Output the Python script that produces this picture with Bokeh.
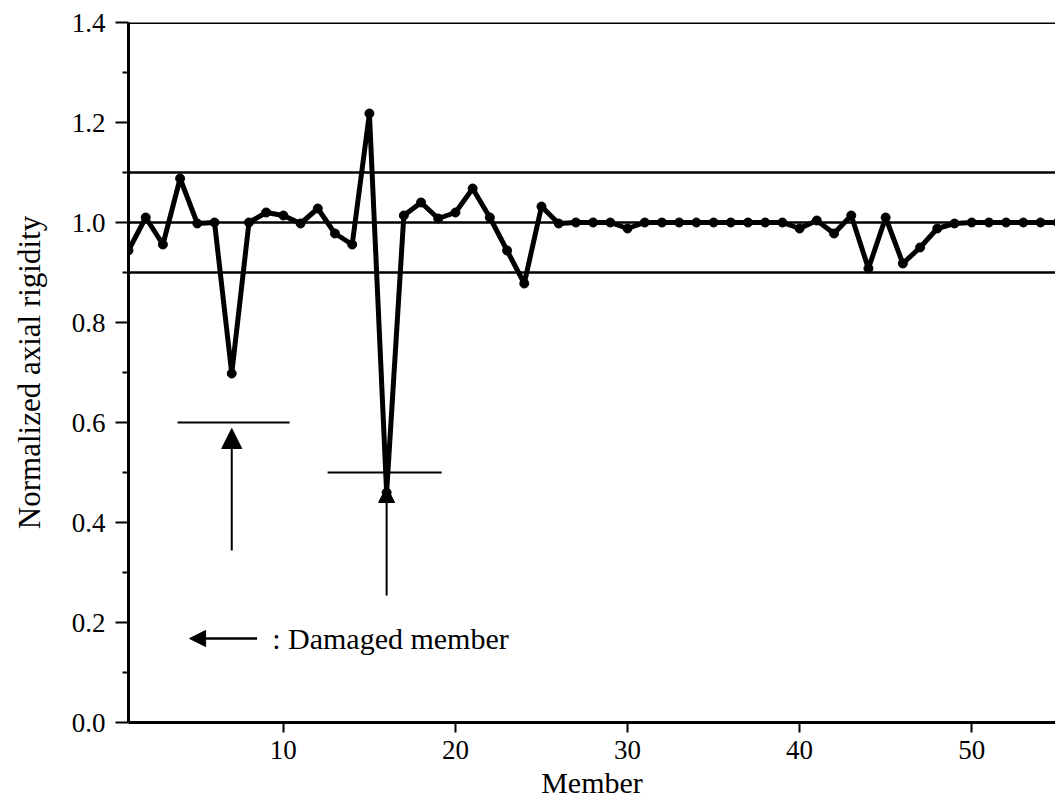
from bokeh.plotting import figure
from bokeh.models import (Span, Arrow, NormalHead, Label, FixedTicker, PrintfTickFormatter)
from bokeh.embed import file_html
from bokeh.resources import INLINE

# ---- data ----
members = list(range(1, 56))
rigidity = [0.944, 1.010, 0.956, 1.088, 0.998, 1.000, 0.698, 1.000, 1.020, 1.014,
            0.998, 1.028, 0.978, 0.956, 1.218, 0.460, 1.014, 1.040, 1.008, 1.020,
            1.068, 1.010, 0.944, 0.878, 1.032, 0.998, 1.000, 1.000, 1.000, 0.988,
            1.000, 1.000, 1.000, 1.000, 1.000, 1.000, 1.000, 1.000, 1.000, 0.988,
            1.004, 0.978, 1.014, 0.908, 1.010, 0.918, 0.950, 0.988, 0.998, 1.000,
            1.000, 1.000, 1.000, 1.000, 1.000]
ref_levels = [1.1, 1.0, 0.9]
x_ticks = [10, 20, 30, 40, 50]
y_ticks = [0.0, 0.2, 0.4, 0.6, 0.8, 1.0, 1.2, 1.4]
y_minor = [0.1, 0.3, 0.5, 0.7, 0.9, 1.1, 1.3]

# damaged members and their true values (short horizontal bars)
damaged = [7, 16]
true_vals = [0.6, 0.5]
bar_x0 = [3.85, 12.57]
bar_x1 = [10.36, 19.2]
arrow_start = [0.344, 0.254]
arrow_end = [0.588, 0.472]

FONT = "Liberation Serif"

p = figure(width=1055, height=807, x_range=(1, 54.87), y_range=(0, 1.4),
           output_backend="svg", toolbar_location=None,
           min_border_left=128, min_border_right=0, min_border_top=22,
           min_border_bottom=85)
p.outline_line_color = None
p.grid.grid_line_color = None
p.background_fill_color = "white"
p.border_fill_color = "white"

# reference lines
for lv in ref_levels:
    p.add_layout(Span(location=lv, dimension="width", line_color="black", line_width=2.5))
p.add_layout(Span(location=1.4, dimension="width", line_color="black", line_width=3))

# data line + markers
p.line(members, rigidity, line_color="black", line_width=5)
p.scatter(members, rigidity, size=9, fill_color="black", line_color="black")

# true-value bars
p.segment(x0=bar_x0, y0=true_vals, x1=bar_x1, y1=true_vals, line_color="black", line_width=2)

# arrows marking damaged members
for xm, ys, ye, hs in zip(damaged, arrow_start, arrow_end, [20, 16]):
    p.add_layout(Arrow(end=NormalHead(size=hs, fill_color="black", line_color="black"),
                       x_start=xm, y_start=ys, x_end=xm, y_end=ye,
                       line_color="black", line_width=2))

# legend arrow and text
p.add_layout(Arrow(end=NormalHead(size=16, fill_color="black", line_color="black"),
                   x_start=8.47, y_start=0.168, x_end=4.55, y_end=0.168,
                   line_color="black", line_width=2.5))
p.add_layout(Label(x=9.35, y=0.168, text=": Damaged member", text_font=FONT,
                   text_font_size="30px", text_baseline="middle", text_color="black"))

# axes
p.xaxis.ticker = FixedTicker(ticks=x_ticks)
p.yaxis.ticker = FixedTicker(ticks=y_ticks, minor_ticks=y_minor)
p.yaxis.formatter = PrintfTickFormatter(format="%.1f")

for ax in (p.xaxis[0], p.yaxis[0]):
    ax.axis_line_width = 3
    ax.axis_line_color = "black"
    ax.major_tick_line_color = "black"
    ax.major_tick_line_width = 2
    ax.major_tick_in = 0
    ax.major_label_text_font = FONT
    ax.major_label_text_color = "black"
    ax.axis_label_text_font = FONT
    ax.axis_label_text_font_style = "normal"
    ax.axis_label_text_color = "black"

p.xaxis.minor_tick_line_color = None
p.xaxis.major_tick_out = 10
p.xaxis.major_label_standoff = 8
p.xaxis.major_label_text_font_size = "27px"
p.xaxis.axis_label = "Member"
p.xaxis.axis_label_text_font_size = "30px"
p.xaxis.axis_label_standoff = 4

p.yaxis.major_tick_out = 13
p.yaxis.minor_tick_out = 6
p.yaxis.minor_tick_in = 0
p.yaxis.minor_tick_line_color = "black"
p.yaxis.minor_tick_line_width = 2
p.yaxis.major_label_standoff = 10
p.yaxis.major_label_text_font_size = "27px"
p.yaxis.axis_label = "Normalized axial rigidity"
p.yaxis.axis_label_text_font_size = "31px"
p.yaxis.axis_label_standoff = 22

open("out.html", "w").write(file_html(p, INLINE))
